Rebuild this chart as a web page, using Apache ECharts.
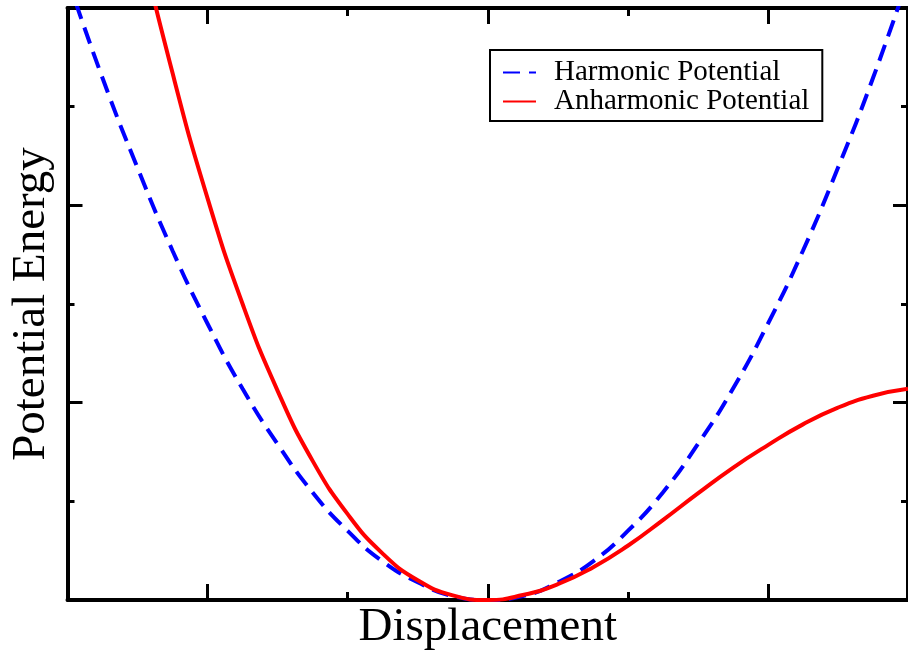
<!DOCTYPE html>
<html>
<head>
<meta charset="utf-8">
<style>
  html, body { margin: 0; padding: 0; background: #ffffff; }
  #chart { width: 908px; height: 656px; }
</style>
<script src="https://cdn.jsdelivr.net/npm/echarts@6/dist/echarts.min.js"></script>
</head>
<body>
<div id="chart"></div>
<script>
// ---- data ----
const displacement = [-3, -2.75, -2.5, -2.25, -2, -1.75, -1.5, -1.25, -1, -0.75, -0.5, -0.25, 0,
                      0.25, 0.5, 0.75, 1, 1.25, 1.5, 1.75, 2, 2.25, 2.5, 2.75, 3];
const harmonicPotential = [6.30, 5.29, 4.38, 3.54, 2.80, 2.14, 1.58, 1.09, 0.70, 0.39, 0.18, 0.04, 0,
                           0.04, 0.18, 0.39, 0.70, 1.09, 1.58, 2.14, 2.80, 3.54, 4.38, 5.29, 6.30];
const anharmonicPotential = [10.5, 8.54, 6.82, 5.34, 4.07, 3.00, 2.12, 1.41, 0.87, 0.47, 0.20, 0.047, 0,
                             0.05, 0.16, 0.33, 0.55, 0.81, 1.08, 1.34, 1.57, 1.78, 1.95, 2.07, 2.14];
const seriesNames = ['Harmonic Potential', 'Anharmonic Potential'];
const xMajorTicks = [-2, 0, 2];
const xAxisTitle = 'Displacement';
const yAxisTitle = 'Potential Energy';

const FONT = "'Liberation Serif', 'Times New Roman', serif";
const BLACK = '#000000';

function xAxisDef(pos, major, withName) {
  const ax = {
    type: 'value', position: pos, min: -3, max: 3, interval: 1,
    axisLine: { show: major ? false : true, onZero: false, lineStyle: { color: BLACK, width: 4 } },
    axisTick: { show: true, inside: true, length: major ? 16 : 8, lineStyle: { color: BLACK, width: 3 } },
    axisLabel: { show: false },
    splitLine: { show: false }
  };
  if (major) ax.axisTick.customValues = xMajorTicks;
  if (withName) {
    ax.name = xAxisTitle;
    ax.nameLocation = 'middle';
    ax.nameGap = 4;
    ax.nameTextStyle = { fontFamily: FONT, fontSize: 47, color: BLACK };
  }
  return ax;
}

function yAxisDef(pos, withName) {
  const ax = {
    type: 'value', position: pos, min: 0, max: 6, interval: 2,
    axisLine: { show: true, onZero: false, lineStyle: { color: BLACK, width: 4 } },
    axisTick: { show: true, inside: true, length: 15, lineStyle: { color: BLACK, width: 3 } },
    minorTick: { show: true, splitNumber: 2, length: 7, lineStyle: { color: BLACK, width: 3 } },
    axisLabel: { show: false },
    splitLine: { show: false },
    minorSplitLine: { show: false }
  };
  if (withName) {
    ax.name = yAxisTitle;
    ax.nameLocation = 'middle';
    ax.nameGap = 12;
    ax.nameTextStyle = { fontFamily: FONT, fontSize: 47, color: BLACK };
  }
  return ax;
}

const chart = echarts.init(document.getElementById('chart'), null, { renderer: 'canvas' });
chart.setOption({
  animation: false,
  backgroundColor: '#ffffff',
  grid: { left: 67.5, right: -4, top: 8, bottom: 54, containLabel: false },
  legend: {
    orient: 'vertical',
    left: 490, top: 50,
    padding: [8, 13, 5, 12],
    itemGap: 0,
    itemWidth: 33, itemHeight: 14,
    borderColor: BLACK, borderWidth: 2,
    backgroundColor: '#ffffff',
    itemStyle: { opacity: 0 },
    data: seriesNames,
    textStyle: { fontFamily: FONT, fontSize: 29, lineHeight: 28, color: BLACK, padding: [0, 0, 0, 13] }
  },
  xAxis: [xAxisDef('bottom', false, true), xAxisDef('bottom', true, false),
          xAxisDef('top', false, false), xAxisDef('top', true, false)],
  yAxis: [yAxisDef('left', true), yAxisDef('right', false)],
  series: [
    {
      name: seriesNames[0], type: 'line', xAxisIndex: 0, yAxisIndex: 0,
      data: displacement.map((x, i) => [x, harmonicPotential[i]]),
      smooth: true, symbol: 'none', clip: true,
      lineStyle: { color: '#0000ff', width: 4, type: [17, 9] },
      itemStyle: { color: '#0000ff' }, z: 3
    },
    {
      name: seriesNames[1], type: 'line', xAxisIndex: 0, yAxisIndex: 0,
      data: displacement.map((x, i) => [x, anharmonicPotential[i]]),
      smooth: true, symbol: 'none', clip: true,
      lineStyle: { color: '#ff0000', width: 4, type: 'solid' },
      itemStyle: { color: '#ff0000' }, z: 4
    }
  ]
});
</script>
</body>
</html>
